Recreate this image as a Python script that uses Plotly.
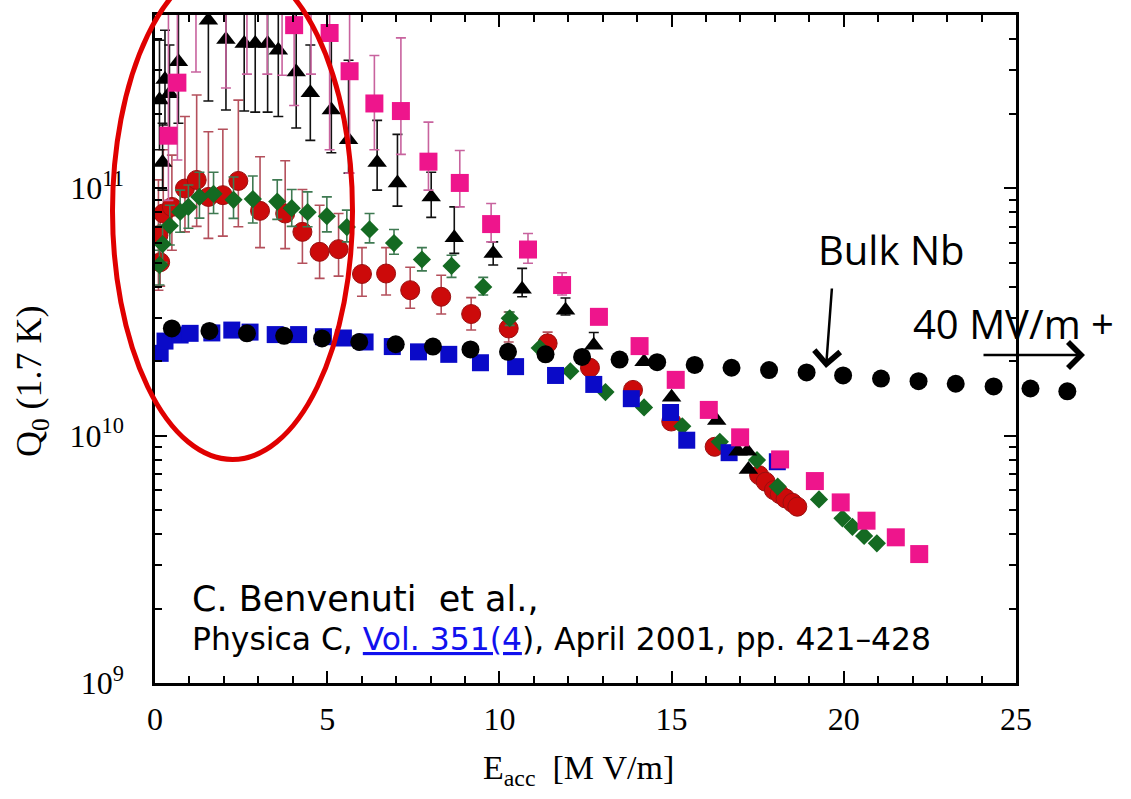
import plotly.graph_objects as go

# ---------------- data: Q0 at 1.7 K versus accelerating field ----------------
# Nb/Cu sputtered cavities (magenta squares)
PINK_E = [0.39, 0.65, 1.19, 2.06, 2.67, 3.26, 3.69, 4.04, 4.53, 5.07, 5.65, 6.37, 7.14, 7.94,
          8.85, 9.76, 10.83, 11.82, 12.89, 14.07, 15.12, 16.08, 16.99, 18.15, 19.16, 19.91,
          20.66, 21.51, 22.19]
PINK_Q = [1.63e11, 2.67e11, 6.5e11, 6.5e11, 6.5e11, 6.5e11, 6.5e11, 4.56e11, 6.5e11, 4.24e11,
          2.97e11, 2.20e11, 2.05e11, 1.28e11, 1.05e11, 7.16e10, 5.65e10, 4.06e10, 3.02e10,
          2.30e10, 1.68e10, 1.27e10, 9.84e9, 8.01e9, 6.55e9, 5.37e9, 4.53e9, 3.88e9, 3.32e9]
PINK_HI = [8e11, 8e11, 1.2e12, 1.2e12, 1.2e12, 1.2e12, 1.2e12, 8e11, 1.2e12, 8e11, 8e11,
           3.44e11, 4.05e11, 1.85e11, 1.42e11, 8.67e10, 6.56e10, 4.55e10]
PINK_LO = [8.93e10, 1.30e11, 2.95e11, 2.54e11, 2.89e11, 2.89e11, 2.86e11, 2.16e11, 2.89e11,
           1.43e11, 1.15e11, 1.43e11, 1.37e11, 9.82e10, 8.40e10, 6.07e10, 4.97e10, 3.70e10]

# black triangles
TRI_E = [0.13, 0.22, 0.29, 0.42, 0.68, 1.55, 2.06, 2.59, 2.91, 3.27, 3.58, 4.10, 4.51, 5.12,
         5.62, 6.45, 7.04, 8.02, 8.69, 9.82, 10.66, 11.92, 12.74, 14.20, 15.00, 16.31, 16.93,
         17.20, 17.23]
TRI_Q = [2.27e11, 1.27e11, 2.75e11, 2.41e11, 3.24e11, 4.77e11, 3.99e11, 3.84e11, 3.84e11,
         3.84e11, 3.61e11, 2.95e11, 2.43e11, 2.07e11, 1.57e11, 1.27e11, 1.05e11, 9.22e10,
         6.30e10, 5.45e10, 3.90e10, 3.21e10, 2.32e10, 1.99e10, 1.43e10, 1.15e10, 8.65e9,
         8.65e9, 7.30e9]
TRI_HI = [3.96e11, 1.83e11, 4.35e11, 3.79e11, 8e11, 8e11, 8e11, 8e11, 8e11, 8e11, 8e11, 8e11,
          3.79e11, 3.96e11, 3.29e11, 1.88e11, 1.65e11, 1.16e11, 8.40e10, 6.07e10, 4.74e10,
          3.60e10, 2.61e10]
TRI_LO = [1.43e11, 9.82e10, 1.80e11, 1.56e11, 1.83e11, 2.25e11, 2.07e11, 2.05e11, 2.03e11,
          2.03e11, 1.95e11, 1.75e11, 1.56e11, 1.39e11, 1.15e11, 9.82e10, 8.46e10, 7.62e10,
          5.45e10, 4.89e10, 3.64e10, 3.07e10, None]

# red circles
RED_E = [0.10, 0.15, 0.24, 0.49, 0.87, 1.21, 1.55, 1.97, 2.42, 3.05, 3.78, 4.28, 4.78, 5.33,
         6.01, 6.71, 7.41, 8.31, 9.18, 10.27, 11.40, 12.63, 13.88, 14.99, 16.25, 17.54, 17.73,
         17.97, 18.14, 18.31, 18.51, 18.65]
RED_Q = [6.46e10, 5.02e10, 7.90e10, 8.40e10, 9.97e10, 1.08e11, 9.22e10, 9.37e10, 1.07e11,
         8.10e10, 7.90e10, 6.66e10, 5.53e10, 5.67e10, 4.50e10, 4.52e10, 3.87e10, 3.64e10,
         3.10e10, 2.71e10, 2.36e10, 1.88e10, 1.53e10, 1.14e10, 9.01e9, 6.92e9, 6.51e9,
         6.02e9, 5.80e9, 5.57e9, 5.35e9, 5.16e9]
RED_HI = [1.08e11, 7.78e10, 1.43e11, 1.36e11, 1.95e11, 2.38e11, 1.69e11, 1.73e11, 2.27e11,
          1.34e11, 1.29e11, 9.88e10, 8.53e10, 7.90e10, 5.75e10, 5.75e10, 4.79e10, 4.45e10,
          3.61e10, 3.16e10, 2.62e10]
RED_LO = [3.87e10, 4.02e10, 5.12e10, 5.61e10, 6.66e10, 7.01e10, 6.27e10, 6.40e10, 6.98e10,
          5.75e10, 5.70e10, 4.97e10, 4.32e10, 4.41e10, 3.66e10, 3.70e10, 3.27e10, 3.10e10,
          2.67e10, 2.39e10, 2.17e10]

# green diamonds
GRN_E = [0.13, 0.22, 0.43, 0.73, 0.97, 1.29, 1.70, 2.28, 2.84, 3.55, 3.97, 4.43, 4.99, 5.57,
         6.23, 6.94, 7.75, 8.61, 9.53, 10.30, 11.17, 12.06, 13.08, 14.20, 15.31, 16.40, 17.48,
         18.08, 19.28, 19.96, 20.25, 20.59, 20.96]
GRN_Q = [4.89e10, 5.94e10, 7.05e10, 8.02e10, 8.40e10, 9.22e10, 9.49e10, 8.97e10, 9.04e10,
         8.83e10, 8.30e10, 8.00e10, 7.71e10, 6.96e10, 6.81e10, 6.00e10, 5.15e10, 4.85e10,
         3.99e10, 2.98e10, 2.26e10, 1.82e10, 1.50e10, 1.30e10, 1.09e10, 9.44e9, 7.96e9,
         6.22e9, 5.52e9, 4.63e9, 4.28e9, 3.93e9, 3.67e9]
GRN_HI = [5.61e10, 7.10e10, 8.53e10, 9.82e10, 1.03e11, 1.16e11, 1.16e11, 1.11e11, 1.12e11,
          1.08e11, 9.88e10, 9.66e10, 9.22e10, 8.15e10, 7.90e10, 6.81e10, 5.75e10, 5.36e10,
          4.36e10, 3.16e10]
GRN_LO = [4.06e10, 5.02e10, 5.89e10, 6.64e10, 6.89e10, 7.57e10, 7.90e10, 7.55e10, 7.23e10,
          7.48e10, 7.01e10, 6.98e10, 6.66e10, 6.07e10, 6.01e10, 5.41e10, 4.63e10, 4.36e10,
          3.70e10, 2.79e10]

# blue squares
BLU_E = [0.15, 0.29, 0.73, 1.02, 1.65, 2.23, 2.76, 3.49, 4.17, 4.89, 5.47, 6.10, 6.89, 7.65,
         8.53, 9.45, 10.47, 11.63, 12.74, 13.83, 14.97, 15.44, 16.67, 18.07]
BLU_Q = [2.15e10, 2.41e10, 2.55e10, 2.59e10, 2.60e10, 2.67e10, 2.62e10, 2.56e10, 2.56e10,
         2.51e10, 2.48e10, 2.39e10, 2.29e10, 2.18e10, 2.13e10, 1.97e10, 1.90e10, 1.75e10,
         1.61e10, 1.41e10, 1.24e10, 9.58e9, 8.53e9, 7.84e9]

# bulk Nb reference cavity (black circles), continuing past the 25 MV/m frame
NB_E = [0.49, 1.58, 2.67, 3.75, 4.85, 5.93, 6.99, 8.07, 9.16, 10.25, 11.34, 12.40, 13.49,
        14.58, 15.67, 16.74, 17.83, 18.92, 19.98, 21.08, 22.17, 23.25, 24.35, 25.42, 26.49]
NB_Q = [2.71e10, 2.65e10, 2.59e10, 2.53e10, 2.47e10, 2.39e10, 2.34e10, 2.29e10, 2.23e10,
        2.18e10, 2.13e10, 2.08e10, 2.03e10, 1.98e10, 1.93e10, 1.88e10, 1.84e10, 1.80e10,
        1.75e10, 1.70e10, 1.66e10, 1.62e10, 1.58e10, 1.55e10, 1.51e10]

# axis ticks
X_MAX = 25
X_TICKS = [0, 5, 10, 15, 20, 25]
Y_RANGE = [9, 11.70]
Y_TICKS = [1e9, 1e10, 1e11]
Y_TICKTEXT = ["10<sup>9</sup>", "10<sup>10</sup>", "10<sup>11</sup>"]
Y_MINOR = [m * 10 ** k for k in (9, 10, 11) for m in range(2, 10)]

# ---------------- figure geometry ----------------
W, H = 1131, 799
ML, MR, MT, MB = 155, 15, 15, 116
FRAME_W = 861                 # width of the framed axes box in px
PAPER_W = W - ML - MR         # paper area, wider than the frame on the right
PH = H - MT - MB
FRAME_FRAC = FRAME_W / PAPER_W
SERIF = "Liberation Serif, Times New Roman, serif"


def paper(px, py):
    """Pixel position on the page -> paper coordinates."""
    return (px - ML) / PAPER_W, (H - MB - py) / PH


def error_bars(q, hi, lo, color):
    n = len(q)
    hi = list(hi) + [None] * (n - len(hi))
    lo = list(lo) + [None] * (n - len(lo))
    plus = [(h - v) if h is not None else 0 for v, h in zip(q, hi)]
    minus = [(v - l) if l is not None else 0 for v, l in zip(q, lo)]
    return dict(type="data", symmetric=False, array=plus, arrayminus=minus,
                color=color, thickness=1.6, width=5)


fig = go.Figure()

fig.add_trace(go.Scatter(
    x=RED_E, y=RED_Q, mode="markers",
    marker=dict(symbol="circle", size=19, color="#CC0A0A",
                line=dict(color="#9A1010", width=1)),
    error_y=error_bars(RED_Q, RED_HI, RED_LO, "#B4505C")))

fig.add_trace(go.Scatter(
    x=GRN_E, y=GRN_Q, mode="markers",
    marker=dict(symbol="diamond", size=14, color="#146A22", line=dict(width=0)),
    error_y=error_bars(GRN_Q, GRN_HI, GRN_LO, "#3F7A52")))

fig.add_trace(go.Scatter(
    x=BLU_E, y=BLU_Q, mode="markers",
    marker=dict(symbol="square", size=17, color="#0A0AC8", line=dict(width=0))))

fig.add_trace(go.Scatter(
    x=TRI_E, y=TRI_Q, mode="markers",
    marker=dict(symbol="triangle-up", size=17, color="black", line=dict(width=0)),
    error_y=error_bars(TRI_Q, TRI_HI, TRI_LO, "#111111")))

fig.add_trace(go.Scatter(
    x=PINK_E, y=PINK_Q, mode="markers",
    marker=dict(symbol="square", size=18, color="#EE158C", line=dict(width=0)),
    error_y=error_bars(PINK_Q, PINK_HI, PINK_LO, "#C8639E")))

# bulk Nb series on a hidden axis with the same scale that runs past the frame
fig.add_trace(go.Scatter(
    x=NB_E, y=NB_Q, mode="markers", xaxis="x2", yaxis="y",
    marker=dict(symbol="circle", size=18, color="black", line=dict(width=0))))

axis_common = dict(
    showgrid=False, zeroline=False, showline=True, linecolor="black", linewidth=2.5,
    mirror="ticks", ticks="inside", ticklen=12, tickwidth=2, tickcolor="black",
    tickfont=dict(family=SERIF, size=32, color="black"), automargin=False,
)

fig.update_layout(
    xaxis=dict(
        domain=[0, FRAME_FRAC], range=[0, X_MAX], tickvals=X_TICKS, ticklabelstandoff=6,
        minor=dict(dtick=1, ticks="inside", ticklen=7, tickwidth=2, tickcolor="black"),
        anchor="y", **axis_common),
    xaxis2=dict(domain=[0, 1], range=[0, X_MAX / FRAME_FRAC], visible=False,
                anchor="y", fixedrange=True, automargin=False),
    yaxis=dict(
        type="log", range=Y_RANGE, tickvals=Y_TICKS, ticktext=Y_TICKTEXT,
        ticklabelstandoff=22, anchor="x",
        minor=dict(tickvals=Y_MINOR, ticks="inside", ticklen=7, tickwidth=2,
                   tickcolor="black"),
        **axis_common),
)

annotations = []

# axis titles
x, y = paper(32, 381)
annotations.append(dict(xref="paper", yref="paper", x=x, y=y, showarrow=False,
                        text="Q<sub>0</sub> (1.7 K)", textangle=-90,
                        font=dict(family=SERIF, size=36, color="black"),
                        xanchor="center", yanchor="middle"))
x, y = paper(578, 770)
annotations.append(dict(xref="paper", yref="paper", x=x, y=y, showarrow=False,
                        text="E<sub>acc</sub>\u00a0\u00a0[M\u00a0V/m]",
                        font=dict(family=SERIF, size=34, color="black"),
                        xanchor="center", yanchor="middle"))

# labels in the plot
SANS = "Open Sans, Noto Sans, sans-serif"
x, y = paper(816, 249)
annotations.append(dict(xref="paper", yref="paper", x=x, y=y, showarrow=False,
                        text="Bulk Nb", font=dict(family=SANS, size=40, color="black"),
                        xanchor="left", yanchor="middle"))
x, y = paper(911, 323)
annotations.append(dict(xref="paper", yref="paper", x=x, y=y, showarrow=False,
                        text="40 MV/m +", font=dict(family=SANS, size=40, color="black"),
                        xanchor="left", yanchor="middle"))

REF = "DejaVu Sans, Verdana, sans-serif"
x, y = paper(190, 599)
annotations.append(dict(xref="paper", yref="paper", x=x, y=y, showarrow=False,
                        text="C. Benvenuti\u00a0\u00a0et al.,",
                        font=dict(family=REF, size=35, color="black"),
                        xanchor="left", yanchor="middle"))
x, y = paper(190, 639)
annotations.append(dict(xref="paper", yref="paper", x=x, y=y, showarrow=False,
                        text="Physica C, <span style='color:#1111EE'><u>Vol. 351(4</u></span>), "
                             "April 2001, pp. 421\u2013428",
                        font=dict(family=REF, size=31.4, color="black"),
                        xanchor="left", yanchor="middle"))

# arrows
x, y = paper(826, 368)
annotations.append(dict(xref="paper", yref="paper", x=x, y=y, text="", showarrow=True,
                        ax=6, ay=-81, arrowhead=4, arrowsize=2.0, arrowwidth=2.5,
                        arrowcolor="black", standoff=0))
x, y = paper(1085, 355)
annotations.append(dict(xref="paper", yref="paper", x=x, y=y, text="", showarrow=True,
                        ax=-103, ay=0, arrowhead=4, arrowsize=2.0, arrowwidth=2.5,
                        arrowcolor="black", standoff=0))

# red ellipse highlighting the low-field region
x0, y0 = paper(232.5 - 120, 211 + 248.5)
x1, y1 = paper(232.5 + 120, 211 - 248.5)
shapes = [dict(type="circle", xref="paper", yref="paper", x0=x0, y0=y0, x1=x1, y1=y1,
               line=dict(color="#E00000", width=5), layer="above")]

fig.update_layout(
    width=W, height=H, margin=dict(l=ML, r=MR, t=MT, b=MB, autoexpand=False),
    paper_bgcolor="white", plot_bgcolor="rgba(0,0,0,0)", showlegend=False,
    annotations=annotations, shapes=shapes,
)

fig.write_html("out.html")
